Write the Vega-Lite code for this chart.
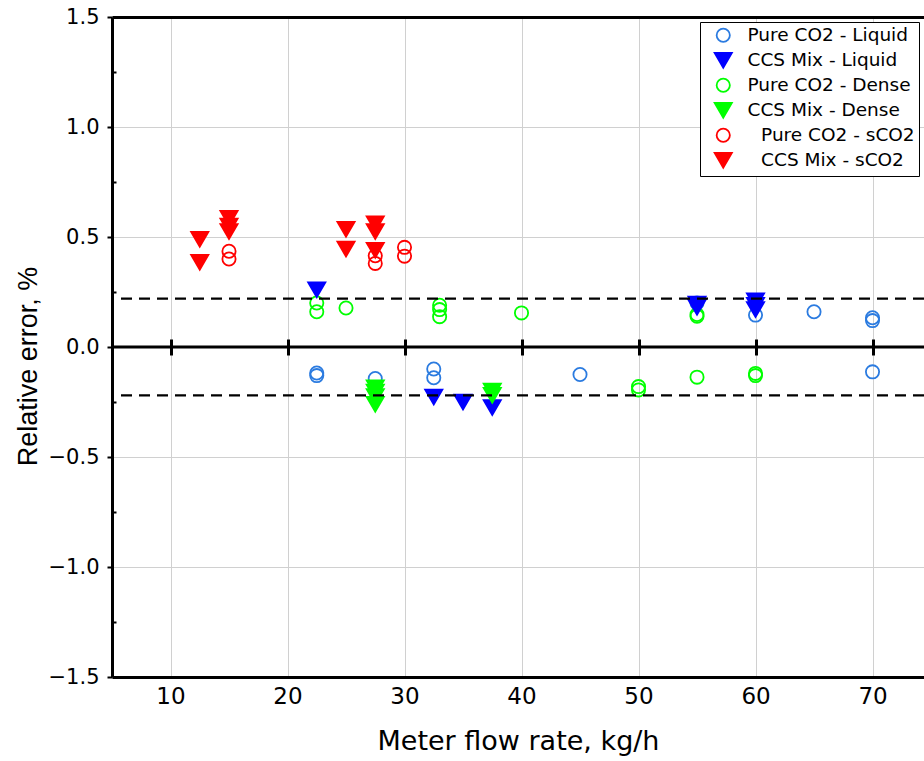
{
  "$schema": "https://vega.github.io/schema/vega-lite/v6.json",
  "autosize": "none",
  "width": 812,
  "height": 660,
  "padding": {"left": 112, "top": 17, "right": 0, "bottom": 84},
  "background": "white",
  "config": {
    "view": {"stroke": null},
    "legend": {
      "title": null, "orient": "top-right", "offset": 5,
      "fillColor": "white", "strokeColor": "black", "padding": 4,
      "symbolOffset": 10, "labelOffset": 15, "rowPadding": 3,
      "labelFont": "DejaVu Sans", "labelFontSize": 18.5, "labelColor": "black", "labelLimit": 400,
      "symbolStrokeWidth": 1.8, "symbolSize": 175
    }
  },
  "datasets": {
    "pts": [
      {"flow": 22.5, "err": -0.118, "series": "Pure CO2 - Liquid"},
      {"flow": 22.5, "err": -0.13, "series": "Pure CO2 - Liquid"},
      {"flow": 27.5, "err": -0.143, "series": "Pure CO2 - Liquid"},
      {"flow": 32.5, "err": -0.1, "series": "Pure CO2 - Liquid"},
      {"flow": 32.5, "err": -0.14, "series": "Pure CO2 - Liquid"},
      {"flow": 45, "err": -0.125, "series": "Pure CO2 - Liquid"},
      {"flow": 55, "err": 0.2, "series": "Pure CO2 - Liquid"},
      {"flow": 60, "err": 0.145, "series": "Pure CO2 - Liquid"},
      {"flow": 65, "err": 0.16, "series": "Pure CO2 - Liquid"},
      {"flow": 70, "err": 0.133, "series": "Pure CO2 - Liquid"},
      {"flow": 70, "err": 0.12, "series": "Pure CO2 - Liquid"},
      {"flow": 70, "err": -0.113, "series": "Pure CO2 - Liquid"},

      {"flow": 22.5, "err": 0.2, "series": "Pure CO2 - Dense"},
      {"flow": 22.5, "err": 0.16, "series": "Pure CO2 - Dense"},
      {"flow": 25, "err": 0.177, "series": "Pure CO2 - Dense"},
      {"flow": 33, "err": 0.19, "series": "Pure CO2 - Dense"},
      {"flow": 33, "err": 0.17, "series": "Pure CO2 - Dense"},
      {"flow": 33, "err": 0.138, "series": "Pure CO2 - Dense"},
      {"flow": 40, "err": 0.155, "series": "Pure CO2 - Dense"},
      {"flow": 50, "err": -0.18, "series": "Pure CO2 - Dense"},
      {"flow": 50, "err": -0.195, "series": "Pure CO2 - Dense"},
      {"flow": 55, "err": 0.148, "series": "Pure CO2 - Dense"},
      {"flow": 55, "err": 0.14, "series": "Pure CO2 - Dense"},
      {"flow": 55, "err": -0.137, "series": "Pure CO2 - Dense"},
      {"flow": 60, "err": -0.12, "series": "Pure CO2 - Dense"},
      {"flow": 60, "err": -0.13, "series": "Pure CO2 - Dense"},

      {"flow": 15, "err": 0.435, "series": "Pure CO2 - sCO2"},
      {"flow": 15, "err": 0.4, "series": "Pure CO2 - sCO2"},
      {"flow": 27.5, "err": 0.415, "series": "Pure CO2 - sCO2"},
      {"flow": 27.5, "err": 0.38, "series": "Pure CO2 - sCO2"},
      {"flow": 30, "err": 0.453, "series": "Pure CO2 - sCO2"},
      {"flow": 30, "err": 0.413, "series": "Pure CO2 - sCO2"},

      {"flow": 22.5, "err": 0.26, "series": "CCS Mix - Liquid"},
      {"flow": 32.5, "err": -0.227, "series": "CCS Mix - Liquid"},
      {"flow": 35, "err": -0.25, "series": "CCS Mix - Liquid"},
      {"flow": 37.5, "err": -0.275, "series": "CCS Mix - Liquid"},
      {"flow": 55, "err": 0.195, "series": "CCS Mix - Liquid"},
      {"flow": 55, "err": 0.18, "series": "CCS Mix - Liquid"},
      {"flow": 60, "err": 0.21, "series": "CCS Mix - Liquid"},
      {"flow": 60, "err": 0.19, "series": "CCS Mix - Liquid"},
      {"flow": 60, "err": 0.17, "series": "CCS Mix - Liquid"},

      {"flow": 27.5, "err": -0.185, "series": "CCS Mix - Dense"},
      {"flow": 27.5, "err": -0.205, "series": "CCS Mix - Dense"},
      {"flow": 27.5, "err": -0.225, "series": "CCS Mix - Dense"},
      {"flow": 27.5, "err": -0.26, "series": "CCS Mix - Dense"},
      {"flow": 37.5, "err": -0.2, "series": "CCS Mix - Dense"},
      {"flow": 37.5, "err": -0.22, "series": "CCS Mix - Dense"},

      {"flow": 12.5, "err": 0.49, "series": "CCS Mix - sCO2"},
      {"flow": 12.5, "err": 0.385, "series": "CCS Mix - sCO2"},
      {"flow": 15, "err": 0.585, "series": "CCS Mix - sCO2"},
      {"flow": 15, "err": 0.55, "series": "CCS Mix - sCO2"},
      {"flow": 15, "err": 0.525, "series": "CCS Mix - sCO2"},
      {"flow": 25, "err": 0.535, "series": "CCS Mix - sCO2"},
      {"flow": 25, "err": 0.445, "series": "CCS Mix - sCO2"},
      {"flow": 27.5, "err": 0.56, "series": "CCS Mix - sCO2"},
      {"flow": 27.5, "err": 0.525, "series": "CCS Mix - sCO2"},
      {"flow": 27.5, "err": 0.44, "series": "CCS Mix - sCO2"}
    ],
    "limits": [{"y": 0.22}, {"y": -0.22}],
    "zero": [{"y": 0}]
  },
  "resolve": {"axis": {"x": "independent", "y": "independent"}},
  "layer": [
    {
      "data": {"name": "pts"},
      "mark": {"type": "point", "opacity": 1, "strokeWidth": 1.8, "size": 175},
      "encoding": {
        "x": {
          "field": "flow", "type": "quantitative",
          "scale": {"domain": [5, 74.4], "nice": false, "zero": false},
          "axis": {
            "orient": "bottom", "values": [10, 20, 30, 40, 50, 60, 70],
            "grid": true, "gridColor": "#d0d0d0", "gridWidth": 1,
            "ticks": false, "tickSize": 0,
            "domain": true, "domainColor": "black", "domainWidth": 3,
            "labelFont": "DejaVu Sans", "labelFontSize": 23, "labelColor": "black", "labelPadding": 8,
            "title": "Meter flow rate, kg/h", "titleFont": "DejaVu Sans", "titleFontSize": 27,
            "titleFontWeight": "normal", "titleColor": "black", "titlePadding": 20
          }
        },
        "y": {
          "field": "err", "type": "quantitative",
          "scale": {"domain": [-1.5, 1.5], "nice": false, "zero": false},
          "axis": {
            "orient": "left", "values": [-1.5, -1, -0.5, 0, 0.5, 1, 1.5], "format": ".1f",
            "grid": true, "gridColor": "#d0d0d0", "gridWidth": 1,
            "ticks": true, "tickSize": 5, "tickWidth": 2, "tickColor": "black",
            "domain": true, "domainColor": "black", "domainWidth": 3,
            "labelFont": "DejaVu Sans", "labelFontSize": 21, "labelColor": "black", "labelPadding": 8,
            "title": "Relative error, %", "titleFont": "Liberation Sans", "titleFontSize": 27,
            "titleFontWeight": "normal", "titleColor": "black", "titlePadding": 6, "titleY": 349
          }
        },
        "stroke": {
          "field": "series", "type": "nominal",
          "scale": {
            "domain": ["Pure CO2 - Liquid", "CCS Mix - Liquid", "Pure CO2 - Dense", "CCS Mix - Dense", "Pure CO2 - sCO2", "CCS Mix - sCO2"],
            "range": ["#2b7be0", "#0000ff", "#00ff00", "#00ff00", "#ff0000", "#ff0000"]
          },
          "legend": {
            "labelExpr": "indexof(datum.label, 'sCO2') >= 0 ? '\u2800' + datum.label : datum.label"
          }
        },
        "fill": {
          "field": "series", "type": "nominal",
          "scale": {
            "domain": ["Pure CO2 - Liquid", "CCS Mix - Liquid", "Pure CO2 - Dense", "CCS Mix - Dense", "Pure CO2 - sCO2", "CCS Mix - sCO2"],
            "range": ["transparent", "#0000ff", "transparent", "#00ff00", "transparent", "#ff0000"]
          }
        },
        "shape": {
          "field": "series", "type": "nominal",
          "scale": {
            "domain": ["Pure CO2 - Liquid", "CCS Mix - Liquid", "Pure CO2 - Dense", "CCS Mix - Dense", "Pure CO2 - sCO2", "CCS Mix - sCO2"],
            "range": ["circle", "M-1.3,-1.12L1.3,-1.12L0,1.12Z", "circle", "M-1.3,-1.12L1.3,-1.12L0,1.12Z", "circle", "M-1.3,-1.12L1.3,-1.12L0,1.12Z"]
          }
        }
      }
    },
    {
      "data": {"name": "zero"},
      "mark": {"type": "rule", "color": "black", "strokeWidth": 3},
      "encoding": {
        "y": {"field": "y", "type": "quantitative", "axis": null}
      }
    },
    {
      "data": {"name": "limits"},
      "mark": {"type": "rule", "color": "black", "strokeWidth": 2.2, "strokeDash": [11, 7]},
      "encoding": {
        "y": {"field": "y", "type": "quantitative", "axis": null}
      }
    },
    {
      "data": {"name": "pts"},
      "mark": {"type": "point", "opacity": 0},
      "encoding": {
        "x": {
          "field": "flow", "type": "quantitative",
          "axis": {
            "orient": "top", "domain": true, "domainColor": "black", "domainWidth": 3,
            "ticks": false, "labels": false, "grid": false, "title": null
          }
        },
        "y": {
          "field": "err", "type": "quantitative",
          "axis": {
            "orient": "left", "values": [-1.25, -0.75, -0.25, 0.25, 0.75, 1.25],
            "domain": false, "ticks": true, "tickSize": -4, "tickWidth": 2, "tickColor": "black",
            "labels": false, "grid": false, "title": null
          }
        }
      }
    },
    {
      "data": {"name": "pts"},
      "mark": {"type": "point", "opacity": 0},
      "encoding": {
        "x": {
          "field": "flow", "type": "quantitative",
          "axis": {
            "orient": "bottom", "offset": -338, "values": [10, 20, 30, 40, 50, 60, 70],
            "domain": false, "ticks": true, "tickSize": 16, "tickWidth": 3, "tickColor": "black",
            "labels": false, "grid": false, "title": null
          }
        }
      }
    }
  ]
}
